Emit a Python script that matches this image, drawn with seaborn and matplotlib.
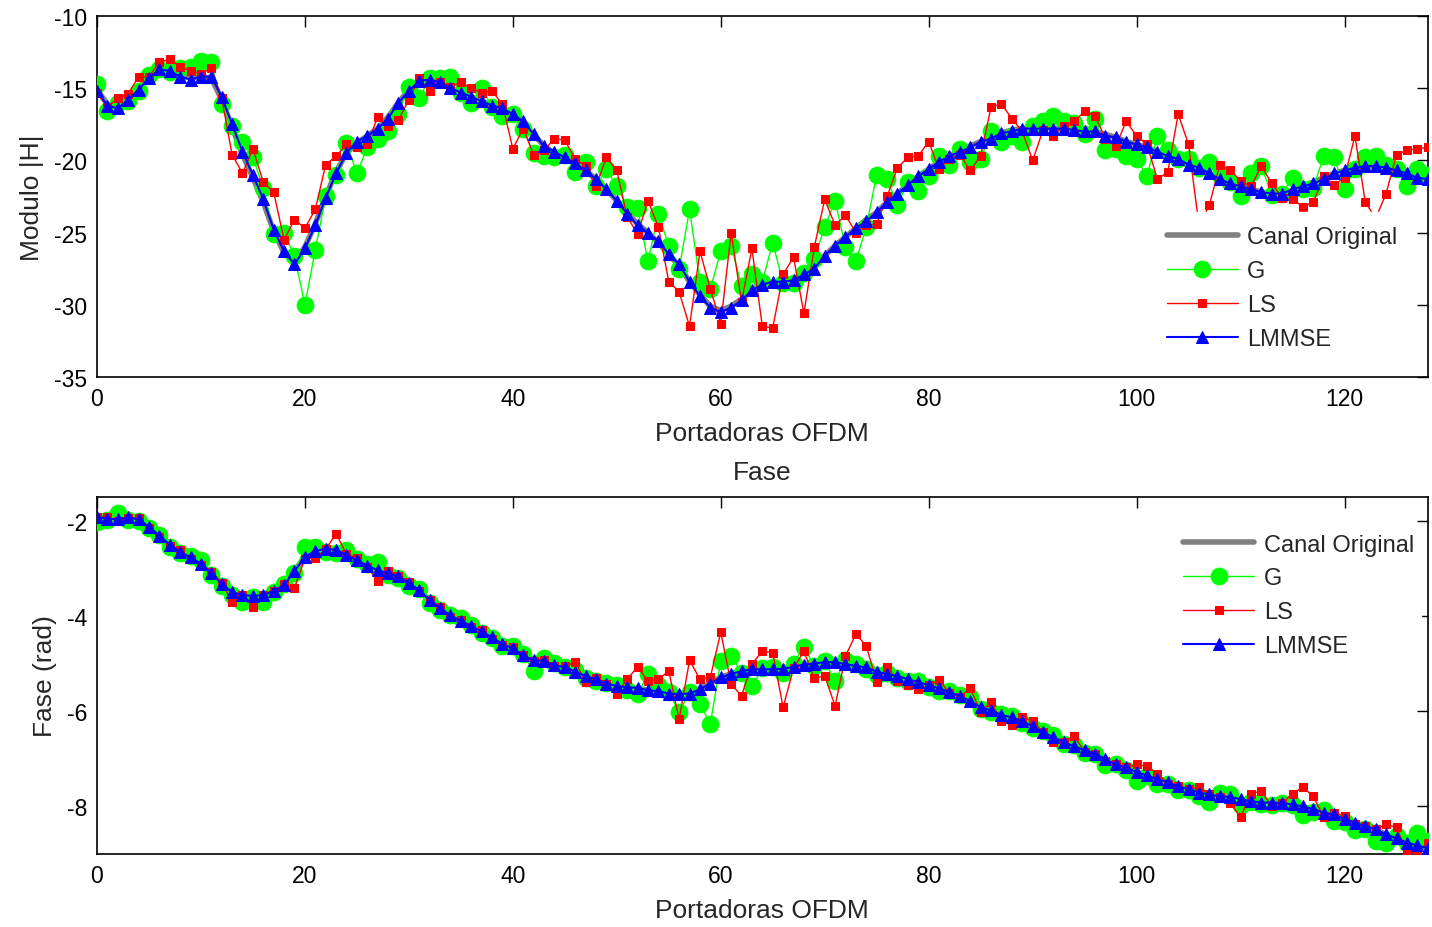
import numpy as np
import pandas as pd
import matplotlib
matplotlib.use("Agg")
import matplotlib.pyplot as plt
import seaborn as sns

# ---------------- data ----------------
carriers = list(range(0, 129))
xticks = [0, 20, 40, 60, 80, 100, 120]
yticks_mod = [-35, -30, -25, -20, -15, -10]
yticks_fase = [-8, -6, -4, -2]
series_names = ["Canal Original", "G", "LS", "LMMSE"]

mod_lmmse = [-15.2,-16.2,-16.4,-15.8,-15.1,-14.3,-13.7,-13.8,-14.2,-14.4,
 -14.2,-14.2,-15.6,-17.5,-19.4,-21.0,-22.7,-24.8,-26.3,-27.2,
 -26.1,-24.5,-22.6,-20.9,-19.5,-18.7,-18.3,-17.8,-17.1,-16.0,
 -15.2,-14.5,-14.4,-14.6,-15.0,-15.3,-15.6,-15.9,-16.2,-16.4,
 -16.8,-17.3,-18.2,-19.0,-19.4,-19.8,-20.2,-20.7,-21.3,-22.0,
 -22.8,-23.7,-24.5,-25.0,-25.6,-26.5,-27.2,-28.4,-29.4,-30.2,
 -30.5,-30.2,-29.7,-29.0,-28.6,-28.4,-28.4,-28.3,-27.9,-27.5,
 -26.6,-25.9,-25.3,-24.7,-24.2,-23.6,-22.9,-22.3,-21.7,-21.1,
 -20.6,-20.1,-19.7,-19.4,-19.1,-18.7,-18.5,-18.1,-18.0,-17.8,
 -17.8,-17.8,-17.8,-17.8,-17.9,-18.0,-18.0,-18.3,-18.4,-18.7,
 -18.9,-19.1,-19.4,-19.7,-19.9,-20.3,-20.5,-20.9,-21.3,-21.6,
 -21.8,-22.0,-22.2,-22.3,-22.3,-22.0,-21.8,-21.6,-21.3,-20.9,
 -20.7,-20.5,-20.4,-20.4,-20.5,-20.7,-20.9,-21.2,-21.3]

mod_original = [-15.1,-16.1,-16.3,-15.8,-15.0,-14.3,-13.8,-13.8,-14.1,-14.3,
 -14.2,-14.3,-15.8,-17.7,-19.6,-21.2,-22.9,-24.9,-26.4,-27.0,
 -26.0,-24.4,-22.5,-20.8,-19.5,-18.8,-18.3,-17.8,-17.0,-16.0,
 -15.1,-14.5,-14.4,-14.6,-15.0,-15.3,-15.6,-15.9,-16.2,-16.5,
 -16.9,-17.4,-18.2,-19.0,-19.5,-19.8,-20.2,-20.7,-21.3,-22.0,
 -22.8,-23.6,-24.4,-25.0,-25.7,-26.5,-27.3,-28.4,-29.3,-30.1,
 -30.4,-30.1,-29.6,-29.0,-28.6,-28.5,-28.4,-28.3,-27.9,-27.4,
 -26.6,-25.9,-25.3,-24.7,-24.1,-23.6,-22.9,-22.3,-21.7,-21.1,
 -20.6,-20.1,-19.7,-19.4,-19.0,-18.7,-18.4,-18.1,-17.9,-17.8,
 -17.8,-17.7,-17.8,-17.8,-17.9,-17.9,-18.0,-18.2,-18.4,-18.7,
 -18.9,-19.1,-19.4,-19.7,-19.9,-20.3,-20.6,-20.9,-21.3,-21.6,
 -21.8,-22.0,-22.2,-22.3,-22.3,-22.1,-21.8,-21.5,-21.2,-20.9,
 -20.7,-20.5,-20.4,-20.4,-20.5,-20.7,-20.9,-21.2,-21.3]

mod_g = [-14.7,-16.6,-16.0,-15.9,-15.2,-14.1,-13.7,-13.9,-13.6,-13.5,
 -13.1,-13.2,-16.1,-17.6,-18.7,-19.8,-21.9,-25.1,-25.0,-26.6,
 -30.0,-26.2,-22.5,-21.0,-18.8,-20.9,-19.1,-18.5,-18.0,-16.8,
 -14.9,-15.7,-14.3,-14.3,-14.2,-15.3,-16.0,-15.0,-16.3,-16.9,
 -16.8,-17.8,-19.5,-19.7,-19.8,-19.6,-20.8,-20.1,-21.8,-20.6,
 -21.8,-23.2,-23.3,-27.0,-23.7,-25.9,-27.5,-23.4,-28.4,-28.9,
 -26.3,-25.9,-28.7,-27.9,-28.4,-25.7,-28.5,-28.5,-27.8,-26.8,
 -24.6,-22.8,-26.0,-27.0,-24.6,-21.0,-21.3,-23.1,-21.5,-22.1,
 -21.1,-19.7,-20.3,-19.2,-20.1,-19.9,-18.0,-18.7,-18.3,-18.7,
 -17.6,-17.3,-16.9,-17.3,-17.4,-18.2,-17.1,-19.3,-19.2,-19.7,
 -19.9,-21.1,-18.3,-19.3,-19.9,-19.9,-20.5,-20.1,-21.0,-21.5,
 -22.5,-20.9,-20.4,-22.4,-22.3,-21.2,-22.0,-21.9,-19.7,-19.8,
 -22.0,-20.6,-19.8,-19.7,-20.3,-20.6,-21.8,-20.6,-21.0]

mod_ls = [-15.3,-16.3,-15.7,-15.4,-14.2,-14.2,-13.2,-13.0,-13.5,-13.8,
 -14.0,-13.6,-15.7,-19.6,-20.9,-19.2,-21.5,-22.2,-25.5,-24.1,
 -24.7,-23.4,-20.3,-19.7,-18.9,-19.1,-18.9,-17.0,-17.6,-17.2,
 -15.8,-14.3,-15.2,-14.6,-14.9,-14.6,-15.0,-15.3,-15.2,-16.1,
 -19.2,-17.8,-19.6,-19.3,-18.5,-18.6,-19.9,-20.4,-21.8,-19.8,
 -20.7,-23.9,-25.1,-22.8,-24.6,-28.4,-29.1,-31.5,-26.3,-28.9,
 -31.3,-25.0,-29.8,-26.1,-31.5,-31.6,-27.9,-26.7,-30.6,-26.0,
 -22.7,-24.5,-23.8,-25.0,-24.5,-24.4,-22.5,-20.5,-19.8,-19.7,
 -18.7,-20.6,-19.9,-19.6,-20.7,-19.7,-16.3,-16.1,-17.1,-18.0,
 -20.0,-17.9,-18.3,-17.6,-17.3,-16.6,-16.9,-18.5,-19.0,-17.3,
 -18.3,-18.9,-21.3,-20.8,-16.8,-18.9,-24.5,-23.1,-20.3,-20.7,
 -21.4,-21.8,-20.4,-21.6,-22.6,-22.7,-23.2,-22.9,-21.1,-21.7,
 -21.2,-18.3,-22.9,-24.0,-22.3,-19.6,-19.3,-19.2,-19.1]

fase_lmmse = [-1.92,-1.96,-1.97,-1.93,-1.97,-2.13,-2.31,-2.50,-2.65,-2.77,
 -2.90,-3.10,-3.33,-3.50,-3.56,-3.58,-3.56,-3.47,-3.35,-3.06,
 -2.76,-2.63,-2.59,-2.61,-2.72,-2.83,-2.94,-3.04,-3.10,-3.17,
 -3.30,-3.46,-3.67,-3.83,-3.99,-4.10,-4.21,-4.32,-4.45,-4.59,
 -4.68,-4.83,-4.93,-4.94,-5.04,-5.07,-5.17,-5.26,-5.33,-5.42,
 -5.47,-5.50,-5.51,-5.56,-5.58,-5.63,-5.64,-5.63,-5.54,-5.42,
 -5.29,-5.22,-5.16,-5.12,-5.12,-5.12,-5.11,-5.07,-5.02,-5.00,
 -4.97,-4.97,-5.01,-5.05,-5.08,-5.17,-5.22,-5.26,-5.33,-5.39,
 -5.45,-5.52,-5.60,-5.68,-5.79,-5.92,-5.98,-6.08,-6.13,-6.21,
 -6.32,-6.44,-6.55,-6.65,-6.74,-6.82,-6.89,-7.01,-7.12,-7.18,
 -7.28,-7.35,-7.43,-7.49,-7.58,-7.64,-7.71,-7.75,-7.79,-7.80,
 -7.85,-7.89,-7.92,-7.92,-7.93,-7.96,-8.00,-8.06,-8.13,-8.17,
 -8.27,-8.34,-8.42,-8.48,-8.59,-8.67,-8.76,-8.82,-8.88]

fase_original = [-1.93,-1.96,-1.96,-1.94,-1.98,-2.12,-2.30,-2.49,-2.64,-2.77,
 -2.91,-3.11,-3.34,-3.50,-3.57,-3.58,-3.55,-3.46,-3.33,-3.05,
 -2.77,-2.64,-2.60,-2.62,-2.72,-2.83,-2.94,-3.03,-3.10,-3.18,
 -3.31,-3.47,-3.67,-3.83,-3.98,-4.10,-4.21,-4.33,-4.46,-4.59,
 -4.69,-4.83,-4.92,-4.95,-5.04,-5.08,-5.17,-5.26,-5.34,-5.42,
 -5.47,-5.50,-5.52,-5.56,-5.59,-5.63,-5.63,-5.62,-5.53,-5.41,
 -5.29,-5.21,-5.16,-5.12,-5.12,-5.11,-5.10,-5.06,-5.02,-4.99,
 -4.97,-4.98,-5.01,-5.05,-5.09,-5.17,-5.22,-5.27,-5.33,-5.39,
 -5.45,-5.52,-5.60,-5.69,-5.80,-5.91,-5.99,-6.08,-6.14,-6.22,
 -6.33,-6.44,-6.55,-6.65,-6.74,-6.82,-6.90,-7.01,-7.11,-7.19,
 -7.28,-7.35,-7.43,-7.50,-7.58,-7.64,-7.70,-7.75,-7.78,-7.81,
 -7.85,-7.89,-7.91,-7.92,-7.94,-7.97,-8.01,-8.06,-8.12,-8.18,
 -8.27,-8.34,-8.42,-8.49,-8.59,-8.67,-8.75,-8.82,-8.88]

fase_g = [-2.02,-1.98,-1.83,-1.98,-2.00,-2.16,-2.30,-2.55,-2.68,-2.73,
 -2.82,-3.14,-3.36,-3.55,-3.71,-3.60,-3.70,-3.50,-3.33,-3.10,
 -2.56,-2.56,-2.65,-2.68,-2.62,-2.80,-2.90,-2.86,-3.13,-3.20,
 -3.36,-3.43,-3.72,-3.88,-3.99,-4.05,-4.18,-4.35,-4.47,-4.63,
 -4.64,-4.80,-5.16,-4.88,-4.98,-5.08,-5.13,-5.30,-5.36,-5.40,
 -5.44,-5.56,-5.64,-5.22,-5.46,-5.60,-6.02,-5.60,-5.85,-6.27,
 -4.95,-4.84,-5.20,-5.47,-5.10,-5.08,-5.20,-5.00,-4.65,-5.05,
 -4.95,-5.37,-4.92,-5.00,-5.12,-5.25,-5.20,-5.30,-5.36,-5.36,
 -5.49,-5.58,-5.57,-5.66,-5.70,-5.95,-6.02,-6.05,-6.10,-6.25,
 -6.36,-6.42,-6.51,-6.68,-6.71,-6.87,-6.90,-7.13,-7.10,-7.24,
 -7.47,-7.37,-7.52,-7.52,-7.66,-7.65,-7.79,-7.90,-7.72,-7.73,
 -7.98,-7.90,-7.95,-7.98,-7.92,-7.97,-8.18,-8.12,-8.08,-8.30,
 -8.32,-8.50,-8.48,-8.72,-8.78,-8.62,-8.76,-8.55,-8.72]

fase_ls = [-1.92,-1.92,-2.00,-1.95,-1.95,-2.15,-2.35,-2.52,-2.62,-2.80,
 -2.92,-3.07,-3.30,-3.71,-3.55,-3.81,-3.55,-3.48,-3.33,-3.41,
 -2.80,-2.78,-2.60,-2.27,-2.70,-2.78,-2.98,-3.26,-3.05,-3.15,
 -3.28,-3.48,-3.66,-3.82,-4.02,-4.08,-4.23,-4.30,-4.48,-4.62,
 -4.66,-4.83,-4.95,-4.93,-5.05,-5.06,-4.97,-5.39,-5.30,-5.42,
 -5.64,-5.33,-5.07,-5.37,-5.33,-5.16,-6.17,-4.93,-5.33,-5.29,
 -4.34,-5.43,-5.68,-5.01,-4.74,-4.77,-5.92,-5.10,-4.74,-5.31,
 -5.26,-5.89,-4.84,-4.38,-4.63,-5.39,-5.07,-5.37,-5.45,-5.54,
 -5.45,-5.35,-5.62,-5.70,-5.52,-6.02,-5.81,-6.21,-6.29,-6.13,
 -6.21,-6.44,-6.65,-6.65,-6.53,-6.85,-6.91,-7.05,-7.10,-7.18,
 -7.12,-7.16,-7.31,-7.52,-7.58,-7.64,-7.60,-7.75,-7.80,-7.92,
 -8.23,-7.73,-7.68,-8.00,-7.93,-7.73,-7.60,-7.79,-8.23,-8.13,
 -8.20,-8.38,-8.42,-8.48,-8.38,-8.44,-8.97,-8.97,-8.76]

# ---------------- style ----------------
sns.set_style("white")
plt.rcParams['font.family'] = ['Liberation Sans', 'DejaVu Sans']
plt.rcParams['axes.unicode_minus'] = False
TFS = 16.5   # tick labels
LFS = 19     # axis labels / title
GFS = 17     # legend

fig = plt.figure(figsize=(14.32, 9.28), dpi=100)
ax1 = fig.add_axes([0.0677, 0.5927, 0.9293, 0.389])
ax2 = fig.add_axes([0.0677, 0.0787, 0.9293, 0.3847])

styles = {
    "Canal Original": dict(color=(0.5, 0.5, 0.5), linewidth=4.0, marker=None, zorder=2),
    "G": dict(color=(0, 1, 0), linewidth=1.0, marker='o', markersize=12,
              markeredgecolor=(0, 1, 0), markerfacecolor=(0, 1, 0), zorder=3),
    "LS": dict(color=(1, 0, 0), linewidth=1.0, marker='s', markersize=6,
               markeredgecolor=(1, 0, 0), markerfacecolor=(1, 0, 0), zorder=4),
    "LMMSE": dict(color=(0, 0, 1), linewidth=1.5, marker='^', markersize=8.5,
                  markeredgecolor=(0, 0, 1), markerfacecolor=(0, 0, 1), zorder=5),
}

def draw(ax, data_map):
    for name in series_names:
        df = pd.DataFrame({"x": carriers, "y": data_map[name]})
        st = dict(styles[name])
        sns.lineplot(data=df, x="x", y="y", ax=ax, label=name, sort=False,
                     estimator=None, **st)

draw(ax1, {"Canal Original": mod_original, "G": mod_g, "LS": mod_ls, "LMMSE": mod_lmmse})
draw(ax2, {"Canal Original": fase_original, "G": fase_g, "LS": fase_ls, "LMMSE": fase_lmmse})

for ax in (ax1, ax2):
    ax.set_xlim(0, 128)
    ax.set_xticks(xticks)
    ax.tick_params(direction='in', length=8, width=1, top=True, right=True,
                   labelsize=TFS, colors='black', pad=7)
    for sp in ax.spines.values():
        sp.set_visible(True)
        sp.set_color('black')
        sp.set_linewidth(1.2)
    ax.set_xlabel("Portadoras OFDM", fontsize=LFS, labelpad=8)
    ax.grid(False)

ax1.set_ylim(-35, -10)
ax1.set_yticks(yticks_mod)
ax1.set_ylabel("Modulo |H|", fontsize=LFS, labelpad=7)

ax2.set_ylim(-9, -1.5)
ax2.set_yticks(yticks_fase)
ax2.set_ylabel("Fase (rad)", fontsize=LFS, labelpad=7)
ax2.set_title("Fase", fontsize=LFS, pad=13)

def style_legend(leg):
    fr = leg.get_frame()
    fr.set_facecolor('white')
    fr.set_edgecolor('white')
    fr.set_alpha(1.0)
    leg.set_zorder(10)

leg1 = ax1.legend(loc='lower right', bbox_to_anchor=(0.988, 0.036), frameon=True,
                  fontsize=GFS, handlelength=3.0, labelspacing=0.5,
                  borderpad=0.6, handletextpad=0.4, borderaxespad=0.0)
style_legend(leg1)

leg2 = ax2.legend(loc='upper right', bbox_to_anchor=(0.995, 0.917), frameon=True,
                  fontsize=GFS, handlelength=3.0, labelspacing=0.5,
                  borderpad=0.3, handletextpad=0.4, borderaxespad=0.0)
style_legend(leg2)

fig.savefig("out.png", dpi=100, facecolor='white')
